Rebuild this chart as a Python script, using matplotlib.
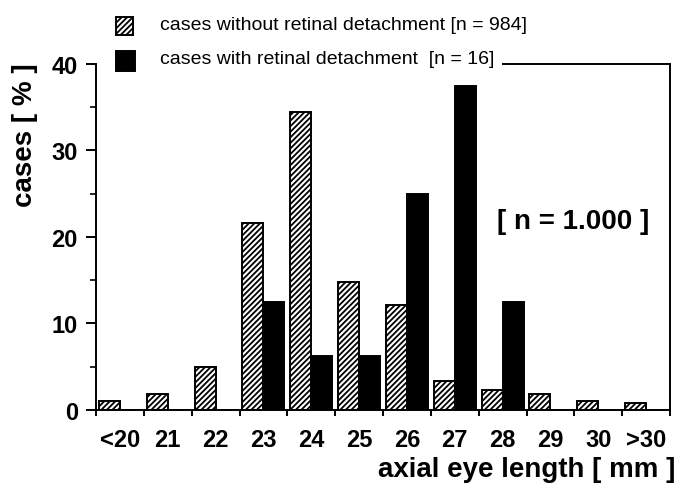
import numpy as np
import matplotlib
matplotlib.use("Agg")
import matplotlib.pyplot as plt
from matplotlib.patches import Rectangle

plt.rcParams['font.family'] = ['Liberation Sans', 'DejaVu Sans']
plt.rcParams['hatch.linewidth'] = 1.3

# axial eye length classes and percentage of cases
categories = ['<20', '21', '22', '23', '24', '25', '26', '27', '28', '29', '30', '>30']
without_rd = [1.0, 1.9, 5.0, 21.6, 34.4, 14.8, 12.1, 3.4, 2.3, 1.9, 1.0, 0.8]   # n = 984
with_rd = [0, 0, 0, 12.5, 6.25, 6.25, 25.0, 37.5, 12.5, 0, 0, 0]                 # n = 16

fig = plt.figure(figsize=(6.77, 4.85), dpi=100)
ax = fig.add_axes([0.1418, 0.1526, 0.848, 0.7134])

x = np.arange(len(categories))
w = 0.44
ax.bar(x - 0.22, without_rd, w, color='white', edgecolor='black', hatch='//////', linewidth=1.4)
ax.bar(x + 0.22, with_rd, w, color='black', edgecolor='black', linewidth=1.4)

ax.set_xlim(-0.5, len(categories) - 0.5)
ax.set_ylim(0, 40)

# boundary ticks on x, labels at class centres
ax.set_xticks(np.arange(len(categories) + 1) - 0.5)
ax.set_xticklabels([])
ax.set_xticks(x, minor=True)
ax.set_xticklabels(categories, minor=True, fontsize=17, fontweight='bold')
ax.tick_params(axis='x', which='major', direction='out', length=4, width=1.4)
ax.tick_params(axis='x', which='minor', length=0, pad=13)

ax.set_yticks([0, 10, 20, 30, 40])
ax.set_yticks([5, 15, 25, 35], minor=True)
ax.set_yticklabels(['0', '10', '20', '30', '40'], fontsize=17, fontweight='bold')
ax.tick_params(axis='y', which='major', direction='out', length=7, width=1.4, pad=6)
ax.tick_params(axis='y', which='minor', direction='out', length=4, width=1.2)

for s in ['left', 'right', 'bottom']:
    ax.spines[s].set_linewidth(1.4)
ax.spines['top'].set_visible(False)
# top border only to the right of the legend
ax.plot([0.709, 1.0], [1.0, 1.0], color='black', linewidth=1.4,
        transform=ax.transAxes, clip_on=False)

ax.text(0.831, 0.546, '[ n = 1.000 ]', transform=ax.transAxes, ha='center', va='center',
        fontsize=20, fontweight='bold')

fig.text(0.997, 0.031, 'axial eye length [ mm ]', ha='right', va='center',
         fontsize=20, fontweight='bold')
fig.text(0.037, 0.722, 'cases [ % ]', rotation=90, ha='center', va='center',
         fontsize=20, fontweight='bold')

# legend
fig.patches.append(Rectangle((116 / 677, 1 - 36 / 485), 17 / 677, 18 / 485,
                             transform=fig.transFigure, facecolor='white',
                             edgecolor='black', hatch='//////', linewidth=1.4))
fig.patches.append(Rectangle((116 / 677, 1 - 72 / 485), 19 / 677, 20 / 485,
                             transform=fig.transFigure, facecolor='black',
                             edgecolor='black', linewidth=1.4))
fig.text(160 / 677, 1 - 25 / 485, 'cases without retinal detachment [n = 984]',
         ha='left', va='center', fontsize=14)
fig.text(160 / 677, 1 - 60 / 485, 'cases with retinal detachment  [n = 16]',
         ha='left', va='center', fontsize=14)

fig.savefig('out.png', dpi=100)
